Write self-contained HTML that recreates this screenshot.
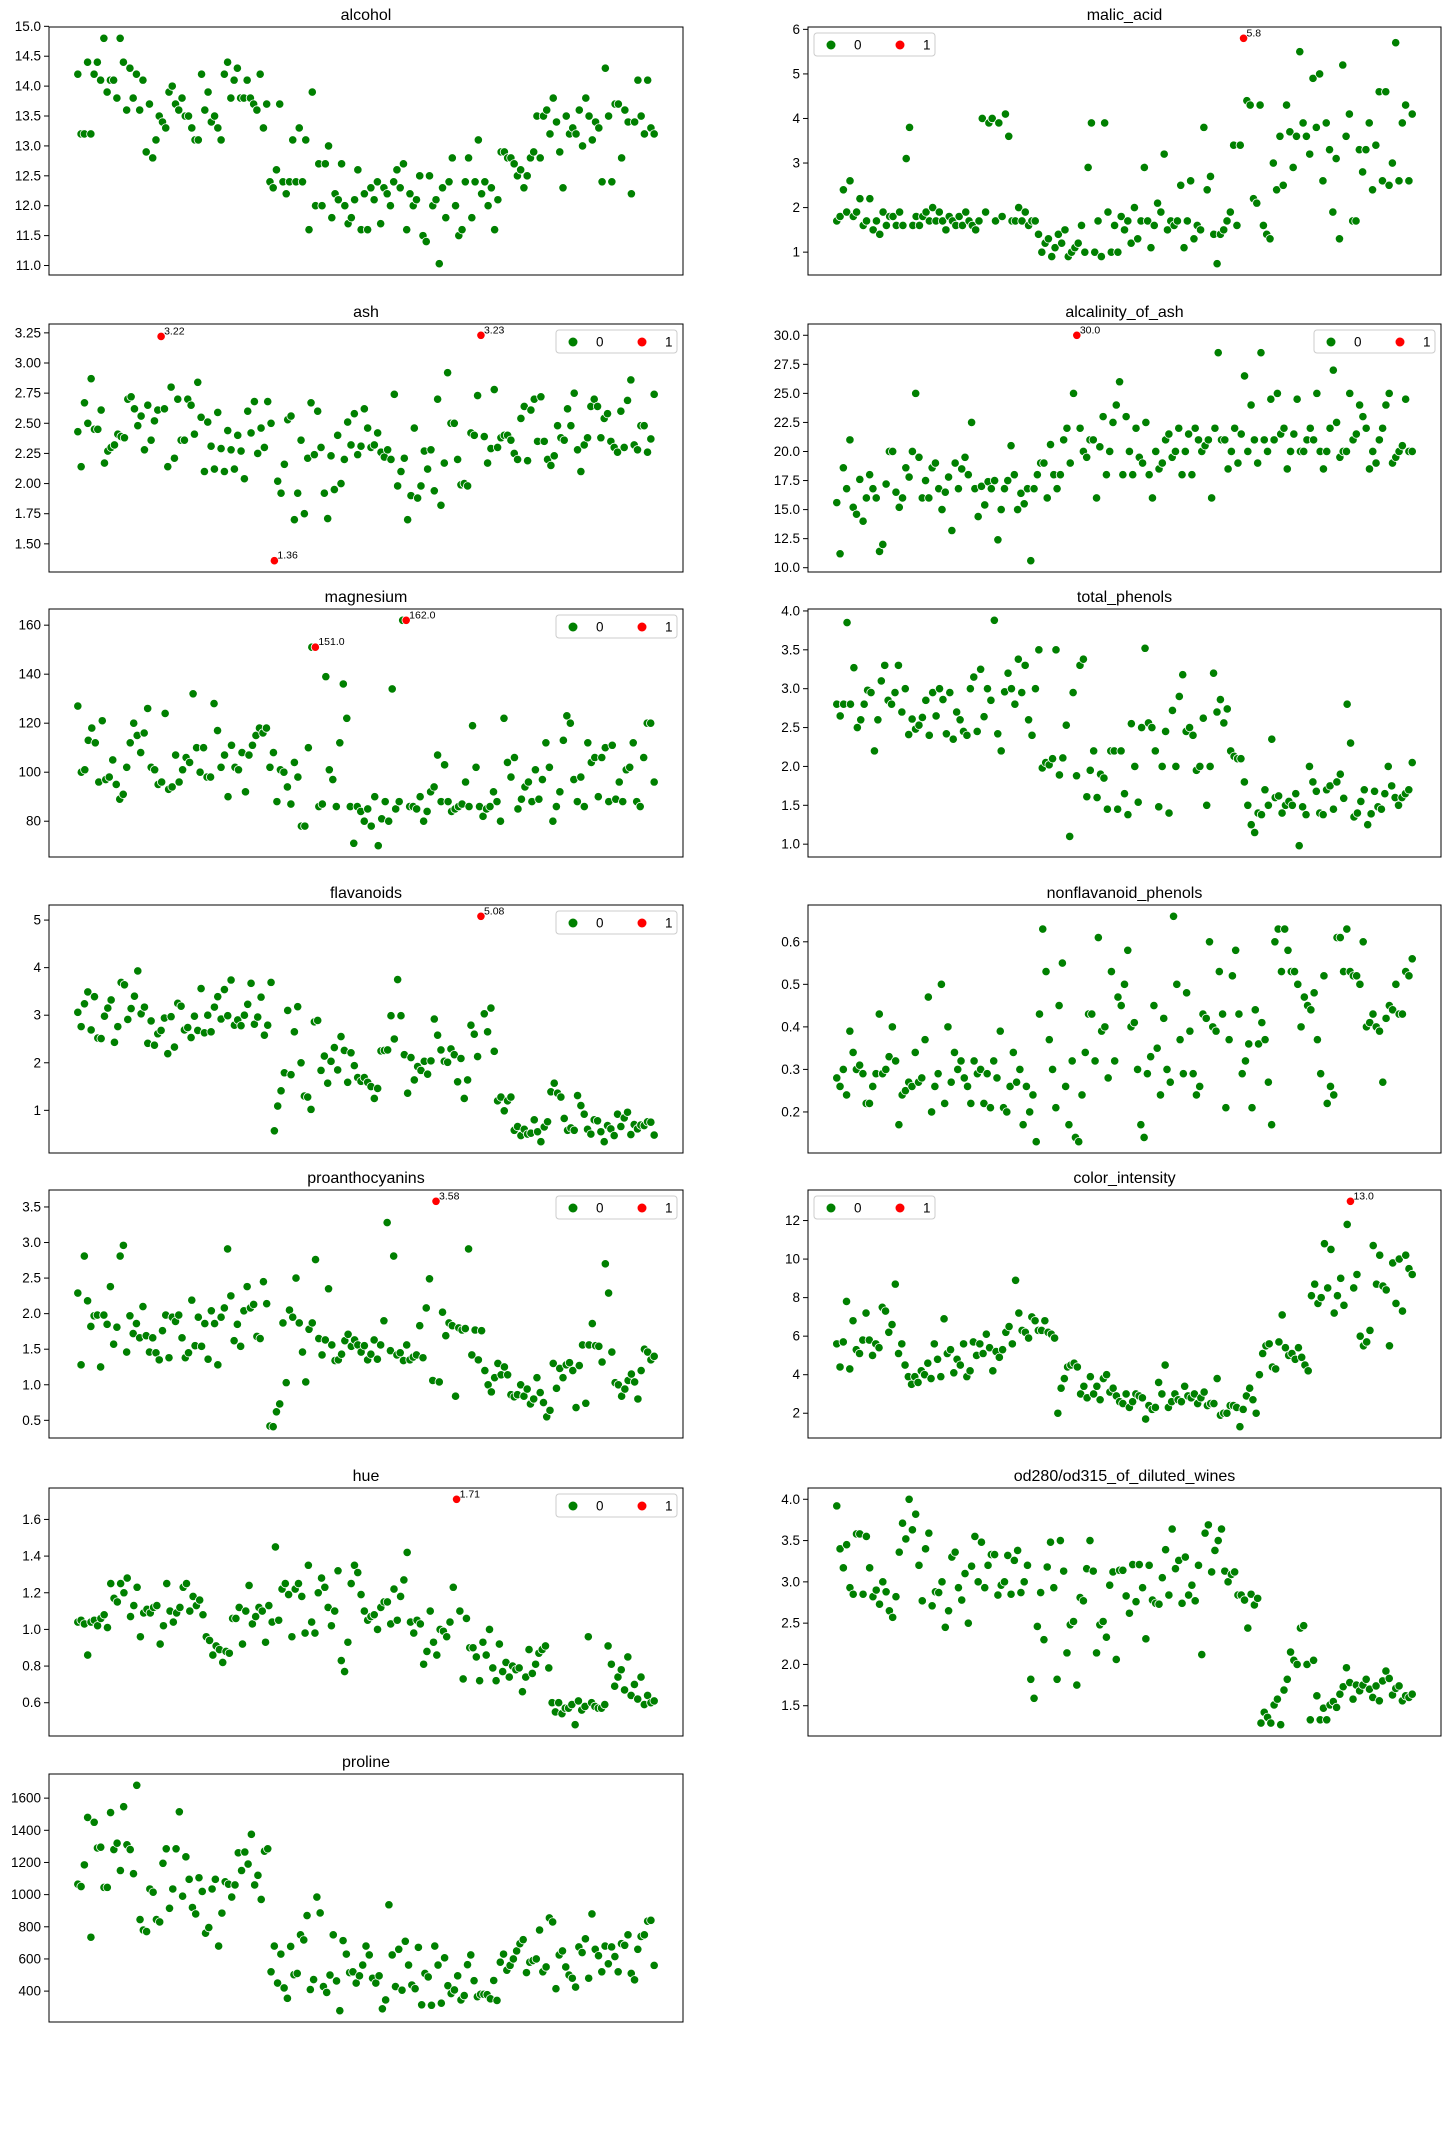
<!DOCTYPE html>
<html><head><meta charset="utf-8">
<style>
html,body{margin:0;padding:0;background:#fff;}
svg{display:block;font-family:"Liberation Sans","DejaVu Sans",sans-serif;}
</style></head>
<body>
<svg id="fig" width="1450" height="2139" viewBox="0 0 1450 2139" xmlns="http://www.w3.org/2000/svg"></svg>
<script>
const alcoholVals=[14.2,13.2,13.2,14.4,13.2,14.2,14.4,14.1,14.8,13.9,14.1,14.1,13.8,14.8,14.4,13.6,14.3,13.8,14.2,13.6,14.1,12.9,13.7,12.8,13.1,13.5,13.4,13.3,13.9,14.0,13.7,13.6,13.8,13.5,13.5,13.3,13.1,13.1,14.2,13.6,13.9,13.4,13.5,13.3,13.1,14.2,14.4,13.8,14.1,14.3,13.8,13.8,14.1,13.8,13.7,13.6,14.2,13.3,13.7,
12.4,12.3,12.6,13.7,12.4,12.2,12.4,13.1,12.4,13.3,12.4,13.1,11.6,13.9,12.0,12.7,12.0,12.7,13.0,11.8,12.2,12.1,12.7,12.0,11.7,11.8,12.1,12.6,11.6,12.2,11.6,12.3,12.1,12.4,11.7,12.3,12.2,12.0,12.4,12.6,12.3,12.7,11.6,12.2,12.0,12.1,12.5,11.5,11.4,12.5,12.0,12.1,11.03,12.3,11.8,12.4,12.8,12.0,11.5,11.6,12.4,12.8,11.8,12.4,13.1,12.2,12.4,12.0,12.3,11.6,12.1,
12.9,12.9,12.8,12.8,12.7,12.5,12.6,12.3,12.5,12.8,12.9,13.5,12.8,13.5,13.6,13.2,13.8,13.4,12.9,12.3,13.5,13.2,13.3,13.2,13.6,13.0,13.8,13.5,13.1,13.4,13.3,12.4,14.3,13.5,12.4,13.7,13.7,12.8,13.6,13.4,12.2,13.4,14.1,13.5,13.2,14.1,13.3,13.2];
const malicVals=[1.7,1.8,2.4,1.9,2.6,1.8,1.9,2.2,1.6,1.7,2.2,1.5,1.7,1.4,1.9,1.6,1.8,1.8,1.6,1.9,1.6,3.1,3.8,1.6,1.8,1.6,1.8,1.9,1.7,2.0,1.7,1.9,1.7,1.5,1.8,1.7,1.6,1.8,1.6,1.9,1.7,1.6,1.5,1.7,4.0,1.9,3.9,4.0,1.7,3.9,1.8,4.1,3.6,1.7,1.7,2.0,1.7,1.9,1.6,
1.7,1.7,1.4,1.0,1.2,1.3,0.9,1.1,1.4,1.2,1.5,0.9,1.0,1.1,1.2,1.6,1.0,2.9,3.9,1.0,1.7,0.9,3.9,1.9,1.0,1.6,1.0,1.8,1.5,1.7,1.2,2.0,1.3,1.7,2.9,1.7,1.1,1.6,2.1,1.9,3.2,1.5,1.7,1.6,1.7,2.5,1.1,1.7,2.6,1.3,1.6,1.5,3.8,2.4,2.7,1.4,0.74,1.4,1.5,1.7,1.9,3.4,1.6,3.4,2.0,
4.4,4.3,2.2,2.1,4.3,1.6,1.4,1.3,3.0,2.4,3.6,2.5,4.3,3.7,2.9,3.6,5.5,3.9,3.6,3.2,4.9,3.8,5.0,2.6,3.9,3.3,1.9,3.1,1.3,5.2,3.6,4.1,1.7,1.7,3.3,2.8,3.3,3.9,2.4,3.4,4.6,2.6,4.6,2.5,3.0,5.7,2.6,3.9,4.3,2.6,4.1];
const ashVals=[2.43,2.14,2.67,2.5,2.87,2.45,2.45,2.61,2.17,2.27,2.3,2.32,2.41,2.39,2.38,2.7,2.72,2.62,2.48,2.56,2.28,2.65,2.36,2.52,2.61,2.6,2.62,2.14,2.8,2.21,2.7,2.36,2.36,2.7,2.65,2.41,2.84,2.55,2.1,2.51,2.31,2.12,2.59,2.29,2.1,2.44,2.28,2.12,2.4,2.27,2.04,2.6,2.42,2.68,2.25,2.46,2.3,2.68,2.5,
2.0,2.02,1.92,2.16,2.53,2.56,1.7,1.92,2.36,1.75,2.21,2.67,2.24,2.6,2.3,1.92,1.71,2.23,1.95,2.4,2.0,2.2,2.51,2.32,2.58,2.24,2.31,2.62,2.46,2.3,2.32,2.42,2.26,2.22,2.28,2.2,2.74,1.98,2.1,2.21,1.7,1.9,2.46,1.88,1.98,2.27,2.12,2.28,1.94,2.7,1.82,2.17,2.92,2.5,2.5,2.2,1.99,2.0,1.98,2.42,2.4,2.73,2.13,2.39,2.17,2.29,2.78,2.3,2.38,2.4,2.4,
2.36,2.25,2.2,2.54,2.64,2.19,2.61,2.7,2.35,2.72,2.35,2.2,2.15,2.23,2.48,2.38,2.36,2.62,2.48,2.75,2.28,2.1,2.32,2.38,2.64,2.7,2.64,2.38,2.54,2.58,2.35,2.3,2.26,2.6,2.3,2.69,2.86,2.32,2.28,2.48,2.48,2.26,2.37,2.74];
const alcalVals=[15.6,11.2,18.6,16.8,21,15.2,14.6,17.6,14,16,18,16.8,16,11.4,12,17.2,20,20,16.5,15.2,16,18.6,17.8,20,25,19.5,16,17.5,16,18.6,19,16.8,15,16.5,17.8,13.2,19,16.8,18.5,19.5,18,22.5,16.8,14.4,17,15.4,17.4,16.8,17.5,12.4,15,16.8,17.5,20.5,18,15,16.4,15.5,16.8,
10.6,16.8,18,19,19,16,20.6,18,16.8,18,21,22,19,25,24,22,20,19.5,21,21,16,20.4,23,18,20,22.5,24,26,18,23,20,18,22,19.5,19,22.5,18,16,20,18.5,19,21,21.5,19.5,20,22,18,20,21.5,18,22,21,20,20.5,21,16,22,28.5,21,21,18.5,20,22,19,21.5,26.5,20,24,21,19,
28.5,21,20,24.5,21,25,21.5,22,18.5,20,21.5,24.5,20,20,21,22,21,25,20,18.5,20,22,27,22.5,19.5,20,20,25,21,21.5,24,23,22,18.5,20,19,21,22,24,25,19,19.5,20,20.5,24.5,20,20];
const magnesiumVals=[127,100,101,113,118,112,96,121,97,98,105,95,89,91,102,112,120,115,108,116,126,102,101,95,96,124,93,94,107,96,101,106,104,132,110,100,110,98,98,128,117,102,107,90,111,102,101,108,92,107,111,115,118,116,118,102,108,88,101,
100,94,87,104,98,78,78,110,151,103,86,87,139,101,97,86,112,136,122,86,71,86,84,80,85,78,90,70,81,88,80,134,85,88,162,88,86,86,85,90,80,84,92,94,107,88,103,88,84,85,86,87,96,86,119,102,86,82,85,86,92,88,80,122,104,98,106,85,89,94,96,
88,101,89,97,112,102,80,86,92,113,123,120,97,88,98,86,112,104,106,90,106,110,88,111,89,96,88,101,102,112,88,86,106,120,120,96];
const phenolsVals=[2.8,2.65,2.8,3.85,2.8,3.27,2.5,2.6,2.8,2.98,2.95,2.2,2.6,3.1,3.3,2.85,2.8,2.95,3.3,2.7,3.0,2.41,2.61,2.48,2.53,2.63,2.85,2.4,2.95,2.65,3.0,2.86,2.42,2.95,2.35,2.7,2.6,2.45,2.4,3.0,3.15,2.45,3.25,2.64,3.0,2.85,3.88,2.42,2.2,2.96,3.2,3.0,2.8,3.38,2.95,3.3,2.6,2.4,3.0,
3.5,1.98,2.05,2.02,2.1,3.5,1.89,2.11,2.53,1.1,2.95,1.88,3.3,3.38,1.61,1.95,2.2,1.6,1.9,1.85,1.45,2.2,2.2,1.45,2.2,1.65,1.38,2.55,2.0,1.54,2.5,3.52,2.56,2.5,2.2,1.48,2.0,2.45,1.4,2.72,2.0,2.9,3.18,2.45,2.5,2.4,1.95,2.0,2.62,1.5,2.0,3.2,2.7,2.86,2.56,2.74,2.2,2.13,2.1,2.1,1.8,1.5,1.25,1.15,1.4,1.38,1.7,1.5,2.35,1.6,
1.62,1.4,1.5,1.55,1.5,1.65,0.98,1.48,1.38,2.0,1.8,1.68,1.4,1.38,1.7,1.75,1.45,1.8,1.9,1.59,2.8,2.3,1.35,1.4,1.55,1.7,1.25,1.39,1.68,1.48,1.45,1.65,2.0,1.75,1.6,1.5,1.6,1.65,1.7,2.05];
const flavVals=[3.06,2.76,3.24,3.49,2.69,3.39,2.52,2.51,2.98,3.15,3.32,2.43,2.76,3.69,3.64,2.91,3.14,3.4,3.93,3.03,3.17,2.41,2.88,2.37,2.61,2.68,2.94,2.19,2.97,2.33,3.25,3.19,2.69,2.74,2.53,2.98,2.68,3.56,2.63,3.0,2.65,3.17,3.39,2.92,3.54,2.99,3.74,2.79,2.9,2.78,3.0,3.23,3.67,2.81,2.96,3.38,2.58,2.79,3.69,
0.57,1.09,1.41,1.79,3.1,1.75,2.65,3.18,2.0,1.3,1.28,1.02,2.86,2.89,1.84,2.14,1.57,2.03,2.32,1.85,2.55,2.26,1.59,2.21,1.94,1.69,1.61,1.69,1.59,1.5,1.25,1.46,2.25,2.26,2.27,2.99,2.5,3.75,2.99,2.17,1.36,2.11,1.64,1.92,1.84,2.03,1.76,2.04,2.92,2.58,2.27,2.03,2.01,2.29,2.17,1.6,2.09,1.25,1.64,2.79,2.6,2.13,2.65,3.03,2.65,3.15,2.24,1.2,1.28,0.99,
1.2,1.28,0.58,0.66,0.47,0.6,0.5,0.52,0.8,0.55,0.34,0.65,0.76,1.39,1.57,1.36,1.28,0.83,0.58,0.63,0.58,1.31,1.1,0.92,0.6,0.5,0.8,0.78,0.55,0.34,0.68,0.61,0.47,0.92,0.66,0.84,0.96,0.49,0.7,0.61,0.69,0.68,0.76,0.75,0.48];
const nonflavVals=[0.28,0.26,0.3,0.24,0.39,0.34,0.3,0.31,0.29,0.22,0.22,0.26,0.29,0.43,0.29,0.3,0.33,0.4,0.32,0.17,0.24,0.25,0.27,0.26,0.34,0.27,0.28,0.37,0.47,0.2,0.26,0.29,0.5,0.22,0.4,0.27,0.34,0.3,0.32,0.28,0.26,0.22,0.32,0.29,0.3,0.22,0.29,0.21,0.32,0.28,0.39,0.21,0.2,0.26,0.34,0.27,0.3,0.17,0.26,
0.2,0.24,0.13,0.43,0.63,0.53,0.37,0.3,0.21,0.45,0.55,0.26,0.17,0.32,0.14,0.13,0.24,0.34,0.43,0.43,0.32,0.61,0.39,0.4,0.28,0.53,0.32,0.47,0.45,0.5,0.58,0.4,0.41,0.3,0.17,0.14,0.29,0.33,0.45,0.35,0.24,0.42,0.3,0.27,0.66,0.5,0.37,0.29,0.48,0.39,0.29,0.24,0.26,0.43,0.42,0.6,0.4,0.39,0.53,0.43,0.21,0.37,0.52,0.58,0.43,0.29,0.32,0.36,0.21,0.44,0.36,
0.41,0.37,0.27,0.17,0.6,0.63,0.53,0.63,0.58,0.53,0.53,0.5,0.4,0.47,0.45,0.44,0.48,0.37,0.29,0.52,0.22,0.26,0.24,0.61,0.61,0.53,0.63,0.53,0.52,0.52,0.5,0.6,0.4,0.41,0.43,0.4,0.39,0.27,0.42,0.45,0.44,0.5,0.43,0.43,0.53,0.52,0.56];
const proanthVals=[2.29,1.28,2.81,2.18,1.82,1.97,1.98,1.25,1.98,1.85,2.38,1.57,1.81,2.81,2.96,1.46,1.97,1.72,1.86,1.66,2.1,1.69,1.46,1.66,1.45,1.35,1.76,1.98,1.38,1.95,1.89,1.98,1.66,1.38,1.45,2.19,1.55,1.95,1.54,1.86,1.36,2.04,1.86,1.28,1.95,2.08,2.91,2.25,1.62,1.85,1.54,2.04,2.38,2.08,2.13,1.68,1.65,2.45,2.14,
0.42,0.41,0.62,0.73,1.87,1.03,2.05,1.95,2.5,1.87,1.46,1.04,1.78,1.87,2.76,1.65,1.42,1.63,2.35,1.56,1.34,1.35,1.43,1.62,1.71,1.54,1.63,1.56,1.46,1.55,1.35,1.43,1.63,1.36,1.56,1.9,3.28,1.48,2.81,1.42,1.45,1.34,1.56,1.35,1.39,1.42,1.83,1.38,2.08,2.49,1.06,1.41,1.04,2.02,1.69,1.87,1.83,0.84,1.8,1.77,1.79,2.91,1.42,1.77,1.35,1.76,1.2,1.0,0.9,1.1,1.3,
1.14,1.25,1.14,0.86,0.83,0.86,1.0,0.84,0.94,0.73,0.8,1.1,0.89,0.75,0.55,0.64,1.3,0.95,1.23,1.1,1.28,1.31,1.2,0.68,1.27,1.56,0.74,1.56,1.86,1.55,1.54,1.32,2.7,2.29,1.46,1.03,1.0,0.84,0.94,1.06,1.15,1.04,0.8,1.2,1.5,1.46,1.35,1.4];
const colorVals=[5.6,4.4,5.7,7.8,4.3,6.8,5.3,5.1,5.8,7.2,5.8,5.0,5.6,5.4,7.5,7.3,6.2,6.6,8.7,5.1,5.6,4.5,3.9,3.5,3.9,3.6,4.2,4.0,4.6,3.8,5.6,4.8,3.9,6.9,5.1,5.3,4.1,4.8,4.5,5.6,3.9,4.2,5.7,5.0,5.6,5.1,6.1,5.4,4.2,5.2,4.9,5.3,6.2,6.5,5.6,8.9,7.2,6.3,6.2,
5.9,7.0,6.8,6.3,6.3,6.8,6.2,6.1,5.9,2.0,3.3,3.8,4.4,4.5,4.6,4.4,3.0,3.4,2.8,3.9,3.0,3.4,2.7,3.8,4.0,3.1,3.3,2.9,2.6,2.5,3.0,2.3,2.6,3.0,2.9,2.8,1.7,2.4,2.2,2.3,3.6,3.0,4.5,2.3,2.6,3.0,2.7,2.6,3.4,2.9,2.8,3.0,2.5,2.8,3.1,2.4,2.5,2.5,3.8,1.9,2.0,2.0,2.4,2.4,2.3,1.3,2.2,2.9,3.3,2.7,2.0,
4.0,5.1,5.5,5.6,4.4,4.3,5.7,7.1,5.4,5.0,5.1,4.8,5.4,4.9,4.5,4.2,8.1,8.7,7.7,8.0,10.8,8.5,10.5,7.2,8.1,9.0,7.6,11.8,7.3,8.5,9.2,6.0,5.5,5.7,6.3,10.7,8.7,10.2,8.6,8.4,5.5,9.8,7.7,10.0,7.3,10.2,9.5,9.2];
const hueVals=[1.04,1.05,1.03,0.86,1.04,1.05,1.02,1.06,1.08,1.01,1.25,1.17,1.15,1.25,1.2,1.28,1.07,1.13,1.23,0.96,1.09,1.11,1.09,1.12,1.13,0.92,1.02,1.25,1.1,1.04,1.09,1.12,1.23,1.25,1.1,1.18,1.13,1.16,1.08,0.96,0.94,0.86,0.91,0.89,0.82,0.88,0.87,1.06,1.06,1.12,0.92,1.1,1.24,1.03,1.07,1.12,1.1,0.93,1.13,
1.04,1.45,1.05,1.22,1.25,1.19,0.96,1.22,1.25,1.18,0.98,1.35,1.04,0.98,1.2,1.28,1.23,1.12,1.02,1.1,1.32,0.83,0.77,0.93,1.25,1.35,1.31,1.19,1.1,1.05,1.07,1.08,1.0,1.12,1.15,1.15,1.03,1.22,1.05,1.18,1.27,1.42,1.04,0.98,1.05,1.03,0.81,0.88,1.1,0.93,0.86,1.0,0.99,0.96,1.04,1.23,0.95,1.1,0.73,1.06,0.9,0.9,0.85,0.72,0.93,0.86,1.0,0.79,0.72,0.92,0.77,
0.82,0.74,0.8,0.78,0.79,0.66,0.74,0.89,0.76,0.81,0.87,0.89,0.91,0.79,0.6,0.55,0.6,0.54,0.57,0.57,0.59,0.48,0.61,0.56,0.58,0.96,0.6,0.58,0.57,0.57,0.59,0.91,0.81,0.69,0.74,0.78,0.67,0.85,0.64,0.7,0.62,0.74,0.59,0.64,0.6,0.61];
const odVals=[3.92,3.4,3.17,3.45,2.93,2.85,3.58,3.58,2.85,3.55,3.17,2.82,2.9,2.73,3.0,2.88,2.65,2.57,2.82,3.36,3.71,3.52,4.0,3.63,3.82,3.2,2.77,3.4,3.59,2.71,2.88,2.87,3.0,2.45,2.65,3.3,3.36,2.93,2.78,3.1,2.5,3.19,3.55,3.0,3.48,2.93,3.2,3.33,3.33,2.84,2.96,3.0,3.32,2.85,3.26,3.38,2.87,3.0,3.2,
1.82,1.59,2.46,2.87,2.3,3.18,3.48,2.93,1.82,3.5,3.13,2.14,2.48,2.52,1.75,2.81,2.77,3.16,3.5,3.13,2.14,2.48,2.52,2.33,2.96,3.12,2.06,3.14,3.14,2.83,2.62,3.21,2.76,3.21,2.93,2.31,3.2,2.78,2.74,2.73,3.05,3.39,2.84,3.64,3.16,3.26,2.74,3.3,2.84,2.96,2.77,3.2,2.12,3.59,3.69,3.12,3.38,3.5,3.64,3.13,3.0,3.09,3.12,2.84,2.84,2.78,2.44,2.85,2.72,2.8,
1.29,1.42,1.36,1.29,1.51,1.58,1.27,1.69,1.82,2.15,2.05,2.0,2.44,2.47,2.0,1.33,2.05,1.62,1.33,1.47,1.33,1.51,1.55,1.48,1.64,1.73,1.96,1.78,1.58,1.75,1.68,1.75,1.82,1.7,1.6,1.74,1.56,1.8,1.92,1.83,1.63,1.71,1.74,1.56,1.62,1.6,1.64];
const prolineVals=[1065,1050,1185,1480,735,1450,1290,1295,1045,1045,1510,1280,1320,1150,1547,1310,1280,1130,1680,845,780,770,1035,1015,845,830,1195,1285,915,1035,1285,1515,990,1235,1095,920,880,1105,1020,760,795,1035,1095,680,885,1080,1065,985,1060,1260,1150,1265,1190,1375,1060,1120,970,1270,1285,
520,680,450,630,420,355,678,502,510,750,718,870,410,472,985,886,428,392,500,750,463,278,714,630,515,520,450,495,562,680,625,480,450,495,290,345,937,625,428,660,406,710,562,438,415,672,315,510,488,312,680,562,325,607,434,385,407,495,345,372,564,625,465,365,380,380,378,352,466,342,580,
630,530,560,600,650,695,720,515,580,590,600,780,520,550,855,830,415,625,650,550,500,480,425,675,640,725,480,880,660,620,520,680,570,675,615,520,695,685,750,510,470,660,740,750,835,840,560];

const malicRedIdx=[123], malicRedVal=[5.8];
const ashRedIdx=[25,59,121], ashRedVal=[3.22,1.36,3.23];
const alcalRedIdx=[73], alcalRedVal=[30.0];
const magRedIdx=[68,94], magRedVal=[151.0,162.0];
const flavRedIdx=[121], flavRedVal=[5.08];
const proanthRedIdx=[110], proanthRedVal=[3.58];
const colorRedIdx=[158], colorRedVal=[13.0];
const hueRedIdx=[115], hueRedVal=[1.71];

const alcoholTicks=[11.0,11.5,12.0,12.5,13.0,13.5,14.0,14.5,15.0];
const malicTicks=[1,2,3,4,5,6];
const ashTicks=[1.50,1.75,2.00,2.25,2.50,2.75,3.00,3.25];
const alcalTicks=[10.0,12.5,15.0,17.5,20.0,22.5,25.0,27.5,30.0];
const magTicks=[80,100,120,140,160];
const phenolsTicks=[1.0,1.5,2.0,2.5,3.0,3.5,4.0];
const flavTicks=[1,2,3,4,5];
const nonflavTicks=[0.2,0.3,0.4,0.5,0.6];
const proanthTicks=[0.5,1.0,1.5,2.0,2.5,3.0,3.5];
const colorTicks=[2,4,6,8,10,12];
const hueTicks=[0.6,0.8,1.0,1.2,1.4,1.6];
const odTicks=[1.5,2.0,2.5,3.0,3.5,4.0];
const prolineTicks=[400,600,800,1000,1200,1400,1600];

const NS="http://www.w3.org/2000/svg";
const svg=document.getElementById('fig');
function mk(tag,attrs,parent){const e=document.createElementNS(NS,tag);for(const k in attrs)e.setAttribute(k,attrs[k]);(parent||svg).appendChild(e);return e;}

const panels=[
 {key:'alcohol',title:'alcohol',vals:alcoholVals,ticks:alcoholTicks,dec:1,col:0,row:0,ri:[],rv:[],leg:null},
 {key:'malic-acid',title:'malic_acid',vals:malicVals,ticks:malicTicks,dec:0,col:1,row:0,ri:malicRedIdx,rv:malicRedVal,leg:'left'},
 {key:'ash',title:'ash',vals:ashVals,ticks:ashTicks,dec:2,col:0,row:1,ri:ashRedIdx,rv:ashRedVal,leg:'right'},
 {key:'alcalinity-of-ash',title:'alcalinity_of_ash',vals:alcalVals,ticks:alcalTicks,dec:1,col:1,row:1,ri:alcalRedIdx,rv:alcalRedVal,leg:'right'},
 {key:'magnesium',title:'magnesium',vals:magnesiumVals,ticks:magTicks,dec:0,col:0,row:2,ri:magRedIdx,rv:magRedVal,leg:'right'},
 {key:'total-phenols',title:'total_phenols',vals:phenolsVals,ticks:phenolsTicks,dec:1,col:1,row:2,ri:[],rv:[],leg:null},
 {key:'flavanoids',title:'flavanoids',vals:flavVals,ticks:flavTicks,dec:0,col:0,row:3,ri:flavRedIdx,rv:flavRedVal,leg:'right'},
 {key:'nonflavanoid-phenols',title:'nonflavanoid_phenols',vals:nonflavVals,ticks:nonflavTicks,dec:1,col:1,row:3,ri:[],rv:[],leg:null},
 {key:'proanthocyanins',title:'proanthocyanins',vals:proanthVals,ticks:proanthTicks,dec:1,col:0,row:4,ri:proanthRedIdx,rv:proanthRedVal,leg:'right'},
 {key:'color-intensity',title:'color_intensity',vals:colorVals,ticks:colorTicks,dec:0,col:1,row:4,ri:colorRedIdx,rv:colorRedVal,leg:'left'},
 {key:'hue',title:'hue',vals:hueVals,ticks:hueTicks,dec:1,col:0,row:5,ri:hueRedIdx,rv:hueRedVal,leg:'right'},
 {key:'od280-od315',title:'od280/od315_of_diluted_wines',vals:odVals,ticks:odTicks,dec:1,col:1,row:5,ri:[],rv:[],leg:null},
 {key:'proline',title:'proline',vals:prolineVals,ticks:prolineTicks,dec:0,col:0,row:6,ri:[],rv:[],leg:null}
];
const colX=[49,808], colW=[634,633];
const rowY=[27,324,609,905,1190,1488,1774], H=248;

function fmtOut(v){return Number.isInteger(v)? v.toFixed(1) : String(v);}

panels.forEach(p=>{
  const x0=colX[p.col], w=colW[p.col], y0=rowY[p.row];
  const g=mk('g',{});
  
  
  const n=p.vals.length;
  let all=p.vals.concat(p.rv);
  let lo=Math.min(...all), hi=Math.max(...all), pad=(hi-lo)*0.05;
  lo-=pad; hi+=pad;
  const xlo=-0.05*(n-1), xhi=1.05*(n-1);
  const sx=i=>x0+(i-xlo)/(xhi-xlo)*w;
  const sy=v=>y0+H-(v-lo)/(hi-lo)*H;
  const t=mk('text',{x:x0+w/2,y:y0-7,'text-anchor':'middle','font-size':16,fill:'#000'},g);
  t.textContent=p.title;
  
  
  p.ticks.forEach(tv=>{
    const y=sy(tv);
    const tl=mk('line',{x1:x0-5,x2:x0,y1:y,y2:y,stroke:'#000','stroke-width':1},g);
    
    
    const lb=mk('text',{x:x0-8,y:y+4.5,'text-anchor':'end','font-size':13.5,fill:'#000'},g);
    lb.textContent=tv.toFixed(p.dec);
    
    
  });
  p.vals.forEach((v,i)=>{
    if(p.ri.indexOf(i)>=0) return;
    const c=mk('circle',{cx:sx(i),cy:sy(v),r:4.2,fill:'#008000',stroke:'#fff','stroke-width':0.8},g);
    
    
  });
  p.ri.forEach((idx,k)=>{
    const v=p.rv[k];
    const c=mk('circle',{cx:sx(idx),cy:sy(v),r:4.2,fill:'#ff0000',stroke:'#fff','stroke-width':0.8},g);
    
    
    const lb=mk('text',{x:sx(idx)+3,y:sy(v)-2,'font-size':10.5,fill:'#000'},g);
    lb.textContent=fmtOut(v);
    
    
  });
  const fr=mk('rect',{x:x0,y:y0,width:w,height:H,fill:'none',stroke:'#000','stroke-width':1},g);
  
  
  if(p.leg){
    const lw=121, lh=23;
    const lx=p.leg==='right'? x0+w-6-lw : x0+6;
    const ly=y0+6;
    const lg=mk('g',{},g);
    
    
    mk('rect',{x:lx,y:ly,width:lw,height:lh,rx:3,fill:'#fff','fill-opacity':0.8,stroke:'#ccc','stroke-width':1},lg);
    const d0=mk('circle',{cx:lx+17,cy:ly+12,r:4.5,fill:'#008000'},lg);
    
    
    const t0=mk('text',{x:lx+40,y:ly+16.5,'font-size':13.5,fill:'#000'},lg);
    t0.textContent='0';
    
    
    const d1=mk('circle',{cx:lx+86,cy:ly+12,r:4.5,fill:'#ff0000'},lg);
    
    
    const t1=mk('text',{x:lx+109,y:ly+16.5,'font-size':13.5,fill:'#000'},lg);
    t1.textContent='1';
    
    
  }
});
</script>
</body></html>
